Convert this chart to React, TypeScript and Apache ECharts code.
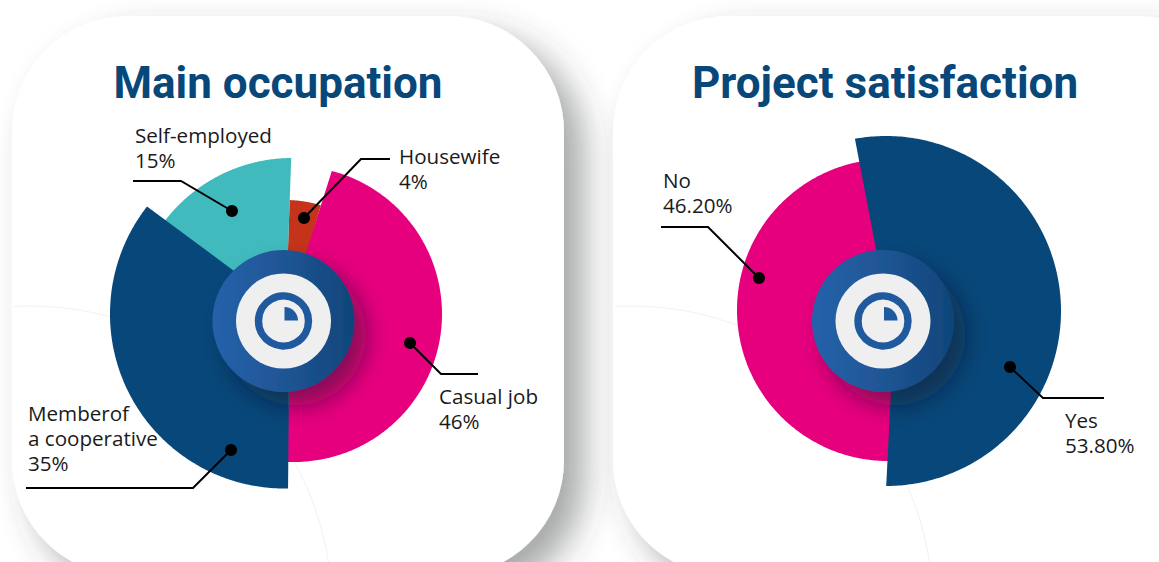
import React, { useEffect, useRef } from "react";
import * as echarts from "echarts";

const occupationNames = ["Housewife", "Self-employed", "Casual job", "Member of a cooperative"];
const occupationValues = [4, 15, 46, 35];
const satisfactionNames = ["No", "Yes"];
const satisfactionValues = [46.2, 53.8];

const NAVY = "#08477a";
const PINK = "#e6007e";
const TEAL = "#41babd";
const RED = "#c5341a";

// drawing geometry of each slice: v = apex, a = arc centre, r = arc radius, start = clockwise degrees from north
const occupationShapes = [
  { v: [285.3, 326], a: [285.5, 321], r: 121, start: 2, fill: RED },
  { v: [285.5, 321], a: [292, 318], r: 160, start: 308, fill: TEAL },
  { v: [295, 287], a: [294, 314], r: 148, start: 17.6, fill: PINK },
  { v: [289.6, 312], a: [284.5, 314], r: 174.5, start: 180.5, fill: NAVY },
];
const satisfactionShapes = [
  { v: [888.4, 261], a: [888, 310], r: 151, start: 178, fill: PINK },
  { v: [893.5, 341], a: [886, 311], r: 175, start: 349.2, fill: NAVY },
];

const rad = (d: number) => (d * Math.PI) / 180;

function rayHit(v: number[], a: number[], r: number, deg: number) {
  const dx = Math.sin(rad(deg));
  const dy = -Math.cos(rad(deg));
  const fx = v[0] - a[0];
  const fy = v[1] - a[1];
  const b = fx * dx + fy * dy;
  const c = fx * fx + fy * fy - r * r;
  const t = -b + Math.sqrt(Math.max(0, b * b - c));
  return [v[0] + t * dx, v[1] + t * dy];
}

function wedge(shape: any, value: number) {
  const sweep = (value / 100) * 360;
  const p0 = rayHit(shape.v, shape.a, shape.r, shape.start);
  const p1 = rayHit(shape.v, shape.a, shape.r, shape.start + sweep);
  const ang = (p: number[]) => Math.atan2(p[0] - shape.a[0], -(p[1] - shape.a[1]));
  const a0 = ang(p0);
  let a1 = ang(p1);
  while (a1 < a0) a1 += Math.PI * 2;
  const points = [shape.v];
  const steps = 240;
  for (let i = 0; i <= steps; i++) {
    const t = a0 + ((a1 - a0) * i) / steps;
    points.push([shape.a[0] + shape.r * Math.sin(t), shape.a[1] - shape.r * Math.cos(t)]);
  }
  return points;
}

function donutSeries(name: string, names: string[], values: number[], shapes: any[]) {
  return {
    type: "custom",
    name,
    coordinateSystem: "none",
    z: 5,
    silent: true,
    data: values.map((v, i) => ({ name: names[i], value: [v] })),
    renderItem: (params: any, api: any) => {
      const s = shapes[params.dataIndex];
      return {
        type: "polygon",
        shape: { points: wedge(s, api.value(0)) },
        style: { fill: s.fill },
      };
    },
  };
}

function card(x: number, w: number) {
  return {
    type: "rect",
    z: 1,
    silent: true,
    shape: { x, y: 16, width: w, height: 560, r: 116 },
    style: {
      fill: "#ffffff",
      shadowBlur: 34,
      shadowOffsetX: 20,
      shadowOffsetY: 18,
      shadowColor: "rgba(60,65,65,0.45)",
    },
  };
}

function faintArc(dx: number) {
  return {
    type: "arc",
    z: 2,
    silent: true,
    shape: { cx: 30 + dx, cy: 608, r: 302, startAngle: rad(-93), endAngle: rad(-5), clockwise: true },
    style: { stroke: "#f2f2f2", lineWidth: 1, fill: "none" },
  };
}

function hub(cx: number, cy: number) {
  const grad = new echarts.graphic.LinearGradient(0, 0, 1, 0, [
    { offset: 0, color: "#2561aa" },
    { offset: 0.45, color: "#205797" },
    { offset: 1, color: "#0f4579" },
  ]);
  return [
    {
      type: "circle",
      z: 20,
      silent: true,
      shape: { cx, cy, r: 71 },
      style: { fill: grad, shadowBlur: 22, shadowOffsetX: 12, shadowOffsetY: 14, shadowColor: "rgba(30,20,40,0.45)" },
    },
    { type: "circle", z: 21, silent: true, shape: { cx, cy, r: 47.5 }, style: { fill: "#efefef" } },
    {
      type: "circle",
      z: 22,
      silent: true,
      shape: { cx, cy, r: 25 },
      style: { fill: "none", stroke: "#1f5a9e", lineWidth: 7.4 },
    },
    {
      type: "sector",
      z: 22,
      silent: true,
      shape: { cx: cx + 1, cy: cy - 0.5, r: 13.5, r0: 0, startAngle: -Math.PI / 2, endAngle: 0, clockwise: true },
      style: { fill: "#1f5a9e" },
    },
  ];
}

function leader(points: number[][]) {
  const last = points[points.length - 1];
  return [
    {
      type: "polyline",
      z: 30,
      silent: true,
      shape: { points },
      style: { stroke: "#000000", lineWidth: 2, fill: "none" },
    },
    { type: "circle", z: 31, silent: true, shape: { cx: last[0], cy: last[1], r: 6 }, style: { fill: "#000000" } },
  ];
}

function label(x: number, y: number, text: string) {
  return {
    type: "text",
    z: 32,
    silent: true,
    x,
    y,
    style: {
      text,
      fill: "#1a1a1a",
      font: '20.6px "Open Sans"',
      lineHeight: 25,
      textAlign: "left",
      textVerticalAlign: "top",
    },
  };
}

export default function App() {
  const ref = useRef<HTMLDivElement>(null);
  useEffect(() => {
    document.body.style.margin = "0";
    const chart = echarts.init(ref.current!, null, { renderer: "svg" });
    chart.setOption({
      animation: false,
      backgroundColor: "#ffffff",
      title: [
        {
          text: "Main occupation",
          left: 273,
          top: 56,
          textAlign: "center",
          z: 40,
          textStyle: { fontFamily: "Roboto", fontWeight: 700, fontSize: 44, color: NAVY },
        },
        {
          text: "Project satisfaction",
          left: 880,
          top: 56,
          textAlign: "center",
          z: 40,
          textStyle: { fontFamily: "Roboto", fontWeight: 700, fontSize: 44, color: NAVY },
        },
      ],
      graphic: {
        elements: [
          card(12, 552),
          faintArc(0),
          card(613, 640),
          faintArc(601),
          ...hub(283.5, 321),
          ...hub(883, 321),
          ...leader([[133, 181], [181, 181], [232, 211]]),
          ...leader([[390, 159], [361, 159], [304, 218]]),
          ...leader([[478, 374], [441, 374], [410, 343]]),
          ...leader([[26, 488], [193, 488], [231, 450]]),
          ...leader([[661, 227], [708, 227], [759, 278]]),
          ...leader([[1104, 398], [1043, 398], [1010, 367]]),
          label(135, 122, "Self-employed\n15%"),
          label(399, 143, "Housewife\n4%"),
          label(439, 383, "Casual job\n46%"),
          label(28, 400, "Memberof\na cooperative\n35%"),
          label(663, 167, "No\n46.20%"),
          label(1065, 407, "Yes\n53.80%"),
        ],
      },
      series: [
        donutSeries("Main occupation", occupationNames, occupationValues, occupationShapes),
        donutSeries("Project satisfaction", satisfactionNames, satisfactionValues, satisfactionShapes),
      ],
    });
    return () => chart.dispose();
  }, []);
  return <div ref={ref} style={{ width: 1159, height: 562 }} />;
}
